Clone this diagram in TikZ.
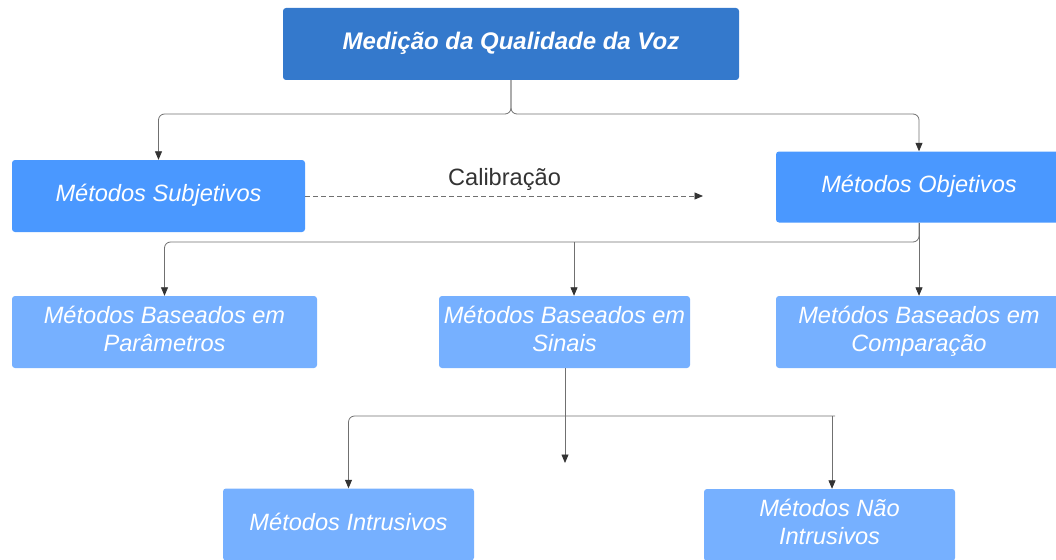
\documentclass[tikz,border=0pt]{standalone}
\usepackage{fontspec}
\setmainfont{Liberation Sans}
\usetikzlibrary{arrows.meta}
\definecolor{topblue}{RGB}{52,121,204}
\definecolor{midblue}{RGB}{74,152,255}
\definecolor{lightblue}{RGB}{118,176,255}
\definecolor{linegray}{RGB}{112,112,112}
\definecolor{tipgray}{RGB}{51,51,51}
\definecolor{labgray}{RGB}{51,51,51}
\tikzset{
  box/.style={rectangle, rounded corners=3pt, draw=none, text=white, align=center,
    font=\fontsize{23.6}{28}\selectfont\itshape, inner sep=0pt},
  oneline/.style={text height=16.5pt, text depth=5.5pt},
  twoline/.style={text height=44pt, text depth=5pt},
  conn/.style={draw=linegray, line width=0.8pt, rounded corners=6pt,
    -{Triangle[length=8.5pt,width=7pt,color=tipgray]}},
  plain/.style={draw=linegray, line width=0.8pt}
}
\begin{document}
\begin{tikzpicture}[x=1pt,y=-1pt]
\useasboundingbox (0,0) rectangle (1056,559);
\clip (0,0) rectangle (1056,559);
% nodes
\node[box, oneline, fill=topblue, minimum width=456pt, minimum height=72pt,
  font=\fontsize{24}{28}\selectfont\bfseries\itshape] (top) at (511,44) {Medição da Qualidade da Voz};
\node[box, oneline, fill=midblue, minimum width=293pt, minimum height=72pt] (subj) at (158.5,196) {Métodos Subjetivos};
\node[box, oneline, fill=midblue, minimum width=286pt, minimum height=71pt] (obj) at (919,187) {Métodos Objetivos};
\node[box, twoline, fill=lightblue, minimum width=305pt, minimum height=72pt] (param) at (164.5,332) {Métodos Baseados em\\Parâmetros};
\node[box, twoline, fill=lightblue, minimum width=251pt, minimum height=72pt] (sinais) at (564.5,332) {Métodos Baseados em\\Sinais};
\node[box, twoline, fill=lightblue, minimum width=286pt, minimum height=72pt] (comp) at (919,332) {Metódos Baseados em\\Comparação};
\node[box, oneline, fill=lightblue, minimum width=251pt, minimum height=72pt] (intr) at (348.5,524.5) {Métodos Intrusivos};
\node[box, twoline, fill=lightblue, minimum width=251pt, minimum height=72pt] (nao) at (829.5,525) {Métodos Não\\Intrusivos};
% coordinates
\coordinate (j1) at (511,114);
\coordinate (calend) at (703,196);
\coordinate (j2) at (919,242);
\coordinate (b2) at (574,242);
\coordinate (send) at (565,463);
\coordinate (h1) at (835,416);
\coordinate (h2) at (832,416);
% connectors
\draw[conn] (top.south) -- (j1) -| (subj.north);
\draw[conn] (top.south) -- (j1) -| (obj.north);
\draw[plain, dash pattern=on 5pt off 3pt, -{Triangle[length=8.5pt,width=7pt,color=tipgray]}] (subj.east) -- (calend);
\node[text=labgray, font=\fontsize{23.6}{28}\selectfont, inner sep=0pt] (cal) at (504.5,179) {Calibração};
\draw[conn] (obj.south) -- (j2) -| (param.north);
\draw[conn] (obj.south) -- (comp.north);
\draw[conn] (b2) -- (b2 |- sinais.north);
\draw[conn] (sinais.south -| send) -- (send);
\draw[conn] (h1) -| (intr.north);
\draw[conn] (h2) -- (h2 |- nao.north);
\end{tikzpicture}
\end{document}
